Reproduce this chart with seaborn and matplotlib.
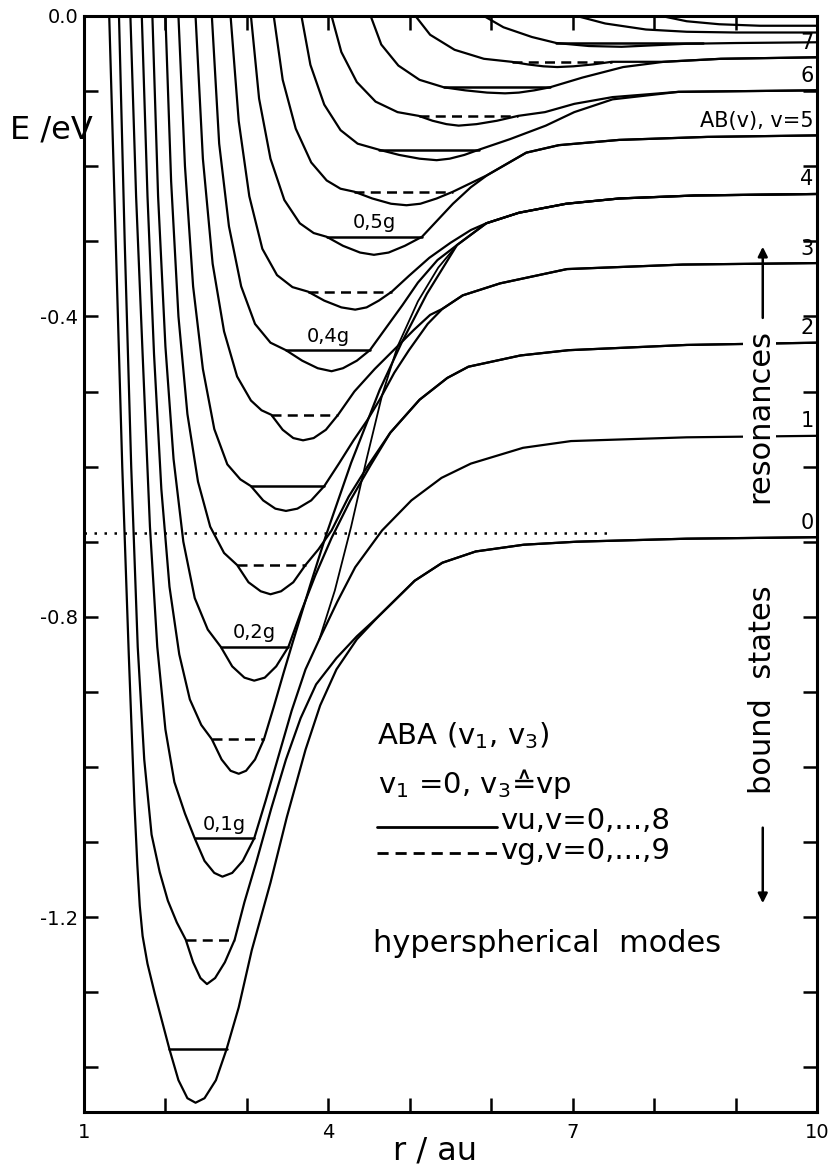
import matplotlib
matplotlib.use("Agg")
import matplotlib.pyplot as plt
import seaborn as sns
import pandas as pd

sns.set_theme(style="ticks")
plt.rcParams['font.family'] = ['DejaVu Sans']
plt.rcParams['mathtext.fontset'] = 'dejavusans'
for k in ("text.color", "axes.labelcolor", "xtick.color", "ytick.color", "axes.edgecolor"):
    plt.rcParams[k] = "black"

# ---------------- data (r / au , E / eV) ----------------
# well curves: left wall from the top, the well, right wall up to the asymptote path
W01 = [(1.31, 0.0), (1.39, -0.30), (1.47, -0.60), (1.55, -0.85), (1.62, -1.05), (1.655, -1.13),
       (1.685, -1.185), (1.72, -1.225), (1.78, -1.262), (1.87, -1.302), (1.96, -1.339), (2.05, -1.376),
       (2.16, -1.417), (2.27, -1.441), (2.37, -1.447), (2.48, -1.441), (2.62, -1.417), (2.75, -1.376),
       (2.90, -1.32)]
W02 = [(1.43, 0.0), (1.50, -0.30), (1.58, -0.60), (1.66, -0.84), (1.74, -0.99), (1.83, -1.09),
       (1.93, -1.14), (2.03, -1.178), (2.14, -1.207), (2.25, -1.23), (2.34, -1.26), (2.43, -1.281),
       (2.51, -1.289), (2.61, -1.281), (2.73, -1.26), (2.85, -1.23), (2.97, -1.18), (3.12, -1.125),
       (3.30, -1.055), (3.48, -0.99), (3.66, -0.935), (3.85, -0.89), (4.10, -0.855), (4.35, -0.826)]
W03 = [(1.57, 0.0), (1.64, -0.24), (1.72, -0.45), (1.81, -0.68), (1.90, -0.84), (2.00, -0.95),
       (2.11, -1.02), (2.24, -1.062), (2.36, -1.095), (2.48, -1.125), (2.60, -1.141), (2.70, -1.146),
       (2.82, -1.141), (2.95, -1.125), (3.09, -1.095), (3.23, -1.045), (3.39, -0.985), (3.55, -0.925),
       (3.72, -0.87)]
W04 = [(1.71, 0.0), (1.78, -0.24), (1.86, -0.45), (1.95, -0.63), (2.05, -0.76), (2.17, -0.85),
       (2.30, -0.91), (2.44, -0.944), (2.57, -0.963), (2.69, -0.990), (2.80, -1.005), (2.90, -1.009),
       (2.99, -1.005), (3.10, -0.990), (3.21, -0.963), (3.33, -0.92), (3.45, -0.875), (3.56, -0.835),
       (3.78, -0.757), (3.97, -0.692), (4.28, -0.595), (4.63, -0.498), (4.90, -0.435), (5.21, -0.370)]
W05 = [(1.84, 0.0), (1.91, -0.24), (2.00, -0.44), (2.10, -0.59), (2.22, -0.70), (2.36, -0.775),
       (2.52, -0.817), (2.68, -0.84), (2.82, -0.866), (2.97, -0.881), (3.09, -0.885), (3.22, -0.881),
       (3.36, -0.866), (3.51, -0.84), (3.66, -0.795), (3.84, -0.745), (4.04, -0.695), (4.27, -0.645),
       (4.52, -0.598)]
W06 = [(2.00, 0.0), (2.07, -0.22), (2.16, -0.40), (2.27, -0.53), (2.40, -0.62), (2.55, -0.68),
       (2.72, -0.715), (2.88, -0.731), (3.02, -0.754), (3.17, -0.766), (3.29, -0.770), (3.42, -0.766),
       (3.57, -0.754), (3.72, -0.731), (3.88, -0.71)]
W07 = [(2.16, 0.0), (2.24, -0.20), (2.34, -0.36), (2.46, -0.47), (2.60, -0.55), (2.76, -0.597),
       (2.92, -0.617), (3.05, -0.626), (3.20, -0.645), (3.35, -0.656), (3.48, -0.659), (3.62, -0.656),
       (3.79, -0.645), (3.95, -0.626), (4.13, -0.596), (4.31, -0.565), (4.48, -0.538)]
W08 = [(2.37, 0.0), (2.46, -0.19), (2.58, -0.33), (2.72, -0.42), (2.88, -0.48), (3.05, -0.512),
       (3.18, -0.525), (3.30, -0.531), (3.44, -0.551), (3.57, -0.562), (3.69, -0.565), (3.82, -0.562),
       (3.97, -0.551), (4.12, -0.531), (4.32, -0.50), (4.57, -0.47), (4.82, -0.443), (5.05, -0.418),
       (5.25, -0.398)]
W09 = [(2.57, 0.0), (2.66, -0.17), (2.78, -0.28), (2.93, -0.36), (3.10, -0.41), (3.29, -0.435),
       (3.48, -0.445), (3.68, -0.459), (3.87, -0.469), (4.04, -0.473), (4.18, -0.469), (4.35, -0.459),
       (4.51, -0.445), (4.71, -0.415), (4.91, -0.385), (5.10, -0.355), (5.34, -0.325)]
W10 = [(2.80, 0.0), (2.90, -0.14), (3.03, -0.24), (3.19, -0.31), (3.37, -0.345), (3.56, -0.361),
       (3.75, -0.367), (3.95, -0.379), (4.16, -0.388), (4.33, -0.391), (4.47, -0.388), (4.62, -0.379),
       (4.78, -0.367), (4.99, -0.346), (5.24, -0.322), (5.50, -0.302), (5.75, -0.285)]
W11 = [(3.05, 0.0), (3.15, -0.11), (3.29, -0.19), (3.46, -0.245), (3.65, -0.276), (3.82, -0.289),
       (3.98, -0.294), (4.18, -0.306), (4.39, -0.315), (4.56, -0.318), (4.74, -0.315), (4.94, -0.306),
       (5.15, -0.294), (5.34, -0.272), (5.53, -0.250), (5.75, -0.228)]
W12 = [(3.33, 0.0), (3.44, -0.085), (3.60, -0.150), (3.79, -0.195), (3.98, -0.219), (4.15, -0.230),
       (4.32, -0.234), (4.54, -0.243), (4.77, -0.250), (4.96, -0.252), (5.13, -0.250), (5.33, -0.243),
       (5.53, -0.234)]
W13 = [(3.67, 0.0), (3.78, -0.065), (3.95, -0.118), (4.15, -0.152), (4.36, -0.170), (4.62, -0.178),
       (4.87, -0.185), (5.12, -0.190), (5.33, -0.192), (5.49, -0.190), (5.67, -0.185), (5.85, -0.178),
       (6.23, -0.164), (6.67, -0.146), (7.02, -0.128), (7.49, -0.111)]
W14 = [(4.04, 0.0), (4.16, -0.048), (4.35, -0.088), (4.58, -0.114), (4.85, -0.128), (5.11, -0.133),
       (5.28, -0.1395), (5.45, -0.144), (5.60, -0.146), (5.82, -0.144), (6.07, -0.1395), (6.33, -0.133),
       (6.66, -0.128)]
W15 = [(4.52, 0.0), (4.65, -0.038), (4.86, -0.066), (5.12, -0.085), (5.42, -0.095), (5.68, -0.099),
       (5.95, -0.102), (6.17, -0.103), (6.34, -0.102), (6.53, -0.099), (6.72, -0.095), (7.12, -0.082),
       (7.62, -0.068)]
W16 = [(5.07, 0.0), (5.25, -0.025), (5.55, -0.045), (5.91, -0.057), (6.25, -0.061), (6.45, -0.0645),
       (6.64, -0.067), (6.81, -0.068), (7.01, -0.067), (7.25, -0.0645), (7.48, -0.061)]
W17 = [(5.91, 0.0), (6.15, -0.015), (6.50, -0.028), (6.80, -0.036), (7.20, -0.040), (7.60, -0.041),
       (8.00, -0.039), (8.40, -0.037), (9.00, -0.036), (10.0, -0.035)]
W18 = [(7.05, 0.0), (7.40, -0.010), (7.90, -0.018), (8.40, -0.021), (9.00, -0.022), (10.0, -0.022)]
W19 = [(8.09, 0.0), (8.40, -0.007), (8.80, -0.011), (9.30, -0.013), (10.0, -0.013)]

# paths into the dissociation limits AB(v) + A, v = 0..7
ASYM0 = [(3.06, -1.244), (3.29, -1.154), (3.49, -1.067), (3.72, -0.977), (3.90, -0.918), (4.10, -0.870),
         (4.35, -0.830), (4.61, -0.800), (5.06, -0.752), (5.40, -0.728), (5.81, -0.713), (6.40, -0.704),
         (7.05, -0.700), (8.40, -0.696), (10.0, -0.694)]
ASYM1 = [(3.89, -0.83), (4.11, -0.78), (4.33, -0.734), (4.66, -0.685), (5.02, -0.645), (5.39, -0.615),
         (5.75, -0.596), (6.39, -0.575), (6.98, -0.566), (8.40, -0.561), (10.0, -0.559)]
ASYM2 = [(4.04, -0.685), (4.25, -0.64), (4.48, -0.60), (4.76, -0.555), (5.12, -0.511), (5.46, -0.482),
         (5.72, -0.467), (6.36, -0.452), (6.95, -0.445), (8.40, -0.438), (10.0, -0.435)]
ASYM3 = [(4.63, -0.511), (4.81, -0.475), (4.99, -0.445), (5.22, -0.410), (5.40, -0.390), (5.65, -0.372),
         (6.11, -0.356), (6.93, -0.337), (8.35, -0.331), (10.0, -0.329)]
ASYM4 = [(5.58, -0.305), (5.94, -0.276), (6.34, -0.262), (6.92, -0.250), (7.57, -0.243), (8.50, -0.239),
         (10.0, -0.237)]
ASYM5 = [(5.95, -0.212), (6.43, -0.182), (6.83, -0.172), (7.57, -0.165), (8.65, -0.161), (10.0, -0.159)]
ASYM6 = [(7.02, -0.117), (7.49, -0.108), (8.30, -0.101), (10.0, -0.099)]
ASYM7 = [(8.12, -0.061), (8.82, -0.057), (10.0, -0.055)]

# steep crossing line in the avoided-crossing band
SEAM_B = [(3.89, -0.83), (4.08, -0.765), (4.28, -0.68), (4.47, -0.59), (4.66, -0.505), (4.85, -0.44),
          (5.10, -0.38), (5.35, -0.335), (5.58, -0.305)]

# vibrational levels inside the wells
LEVEL_E = [-1.376, -1.230, -1.095, -0.963, -0.840, -0.731, -0.626, -0.531, -0.445, -0.367,
           -0.294, -0.234, -0.178, -0.133, -0.095, -0.061, -0.036]
LEVEL_RL = [2.05, 2.25, 2.36, 2.57, 2.68, 2.88, 3.05, 3.30, 3.48, 3.75, 3.98, 4.32, 4.62, 5.11, 5.42, 6.25, 6.80]
LEVEL_RR = [2.75, 2.85, 3.09, 3.21, 3.51, 3.72, 3.95, 4.12, 4.51, 4.78, 5.15, 5.53, 5.85, 6.33, 6.72, 7.48, 8.60]
LEVEL_KIND = ["u", "g", "u", "g", "u", "g", "u", "g", "u", "g", "u", "g", "u", "g", "u", "g", "u"]
LEVEL_TAGS = {2: "0,1g", 4: "0,2g", 8: "0,4g", 10: "0,5g"}

ASYM_E = [-0.694, -0.559, -0.435, -0.329, -0.237, -0.159, -0.099, -0.055]
ASYM_LABELS = ["0", "1", "2", "3", "4", "AB(v), v=5", "6", "7"]

DOTTED_R = [1.0, 7.45]
DOTTED_E = -0.688

X_TICKS = [1, 4, 7, 10]
Y_TICKS = [0.0, -0.4, -0.8, -1.2]
Y_TICKLABELS = ["0.0", "-0.4", "-0.8", "-1.2"]

CURVES = [(W01, ASYM0), (W02, ASYM0), (W03, ASYM1), (W04, ASYM4), (W05, ASYM2), (W06, ASYM2),
          (W07, ASYM3), (W08, ASYM3), (W09, ASYM4), (W10, ASYM4), (W11, ASYM5), (W12, ASYM5),
          (W13, ASYM6), (W14, ASYM6), (W15, ASYM7), (W16, ASYM7), (W17, None), (W18, None), (W19, None)]

# ---------------- figure ----------------
fig = plt.figure(figsize=(8.33, 11.67), dpi=100)
ax = fig.add_axes([0.1008, 0.0471, 0.8800, 0.9392])
LW = 1.6


def draw(points, **kw):
    df = pd.DataFrame(points, columns=["r", "E"])
    sns.lineplot(data=df, x="r", y="E", sort=False, estimator=None, ax=ax,
                 color="black", lw=kw.pop("lw", LW), **kw)


for well, path in CURVES:
    pts = list(well)
    if path is not None:
        last = well[-1][0]
        pts += [p for p in path if p[0] > last + 0.01]
    draw(pts, solid_joinstyle="round", solid_capstyle="round")

draw(SEAM_B, lw=1.3, solid_joinstyle="round")

for i, (e, rl, rr, kind) in enumerate(zip(LEVEL_E, LEVEL_RL, LEVEL_RR, LEVEL_KIND)):
    if kind == "u":
        draw([(rl, e), (rr, e)], lw=1.8)
    else:
        draw([(rl, e), (rr, e)], lw=1.8, linestyle=(0, (4, 2.5)))
    if i in LEVEL_TAGS:
        ax.text((rl + rr) / 2, e + 0.006, LEVEL_TAGS[i], ha="center", va="bottom", fontsize=14)

draw([(DOTTED_R[0], DOTTED_E), (DOTTED_R[1], DOTTED_E)], lw=1.8, linestyle=(0, (1, 3)))

for e, lab in zip(ASYM_E, ASYM_LABELS):
    ax.text(9.96, e + 0.006, lab, ha="right", va="bottom", fontsize=15)

# axes styling
ax.set_xlim(1, 10)
ax.set_ylim(-1.4594, 0)
ax.set_xticks(X_TICKS)
ax.set_xticklabels([str(t) for t in X_TICKS])
ax.set_xticks(range(1, 11), minor=True)
ax.set_yticks(Y_TICKS)
ax.set_yticklabels(Y_TICKLABELS)
ax.set_yticks([-0.1 * k for k in range(15)], minor=True)
ax.tick_params(which="both", direction="in", top=True, right=True, length=10, width=1.8,
               labelsize=14, colors="black")
ax.tick_params(axis="x", pad=8)
ax.tick_params(axis="y", pad=4)
ax.set_xlabel("")
ax.set_ylabel("")
for s in ax.spines.values():
    s.set_linewidth(2.2)
    s.set_color("black")

# annotations
fig.text(0.012, 0.8886, "E /eV", fontsize=23, va="center", ha="left")
fig.text(0.522, 0.014, "r / au", fontsize=23, va="center", ha="center")

T = ax.transAxes
ax.text(0.400, 0.343, r"ABA (v$_1$, v$_3$)", transform=T, fontsize=21, va="center", ha="left")
ax.text(0.401, 0.299, "v$_1$ =0, v$_3$\u2259vp", transform=T, fontsize=21, va="center", ha="left")
ax.plot([0.400, 0.563], [0.260, 0.260], transform=T, color="black", lw=2.0)
ax.text(0.5675, 0.2655, "vu,v=0,...,8", transform=T, fontsize=21, va="center", ha="left")
ax.plot([0.400, 0.563], [0.2363, 0.2363], transform=T, color="black", lw=2.0, linestyle=(0, (4, 2.5)))
ax.text(0.5675, 0.238, "vg,v=0,...,9", transform=T, fontsize=21, va="center", ha="left")
ax.text(0.394, 0.154, "hyperspherical  modes", transform=T, fontsize=22, va="center", ha="left")

box = dict(facecolor="white", edgecolor="none", pad=1.5)
ax.text(0.922, 0.635, "resonances", transform=T, fontsize=22, rotation=90, va="center", ha="center", bbox=box)
ax.text(0.925, 0.385, "bound  states", transform=T, fontsize=22, rotation=90, va="center", ha="center", bbox=box)
ax.annotate("", xy=(0.926, 0.792), xytext=(0.926, 0.722), xycoords=T, textcoords=T,
            arrowprops=dict(arrowstyle="-|>", color="black", lw=1.8, mutation_scale=14))
ax.annotate("", xy=(0.926, 0.188), xytext=(0.926, 0.262), xycoords=T, textcoords=T,
            arrowprops=dict(arrowstyle="-|>", color="black", lw=1.8, mutation_scale=14))

fig.savefig("out.png", dpi=100)
